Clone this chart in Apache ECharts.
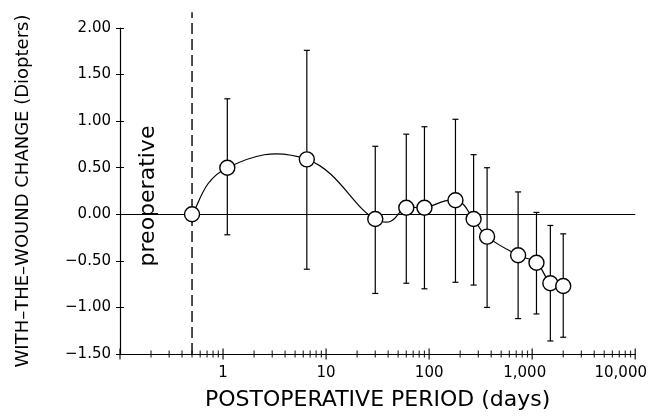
<!DOCTYPE html>
<html>
<head>
<meta charset="utf-8" />
<script src="https://cdn.jsdelivr.net/npm/echarts@6/dist/echarts.min.js"></script>
<style>
  html, body { margin: 0; padding: 0; background: #fff; }
  #main { width: 650px; height: 417px; }
</style>
</head>
<body>
<div id="main"></div>
<script type="text/javascript">
// postoperative day of each measurement
var days = [0.5, 1.1, 6.5, 30, 60, 90, 180, 270, 365, 730, 1100, 1500, 2000];
// mean with-the-wound change (D)
var change = [0.00, 0.50, 0.59, -0.05, 0.07, 0.07, 0.15, -0.05, -0.24, -0.44, -0.52, -0.74, -0.77];
// error bar ends
var errHigh = [null, 1.24, 1.76, 0.73, 0.86, 0.94, 1.02, 0.64, 0.50, 0.24, 0.02, -0.12, -0.21];
var errLow = [null, -0.22, -0.59, -0.85, -0.74, -0.80, -0.73, -0.76, -1.00, -1.12, -1.07, -1.36, -1.32];

var preopDay = 0.5;
var yMin = -1.5, yMax = 2.0, yStep = 0.5;
var xMin = 0.1, xMax = 10000;
// decades and the minor marks between them (axis decoration)
var decades = [0.1, 1, 10, 100, 1000];
var minorSteps = [2, 3, 4, 5, 6, 7, 8, 9];

var FONT = 'DejaVu Sans';

var minorTicks = [];
decades.forEach(function (d) {
    minorSteps.forEach(function (k) { minorTicks.push([d * k, yMin]); });
});
var majorTicks = decades.concat([xMax]).map(function (d) { return [d, yMin]; });

var pointData = days.map(function (d, i) { return [d, change[i]]; });
var errData = [];
days.forEach(function (d, i) {
    if (errHigh[i] !== null) errData.push([d, errLow[i], errHigh[i]]);
});

var myChart = echarts.init(document.getElementById('main'));

function xLabel(v) {
    var r = Math.round(v);
    if (v < 0.5) return '';
    if (r === 1000) return '{a|1,000}';
    if (r === 10000) return '{b|10,000}';
    return String(r);
}

function yLabel(v) {
    var s = Math.abs(v).toFixed(2);
    return v < -1e-9 ? '\u2212' + s : s;
}

// smooth curve through the points (cardinal spline in pixel space)
function renderCurve(params, api) {
    var p = pointData.map(function (d) { return api.coord(d); });
    var k = 0.22;
    var path = 'M' + p[0][0] + ' ' + p[0][1];
    for (var i = 0; i < p.length - 1; i++) {
        var a = p[i - 1] || p[i], b = p[i], c = p[i + 1], e = p[i + 2] || p[i + 1];
        var c1x = b[0] + k * (c[0] - a[0]), c1y = b[1] + k * (c[1] - a[1]);
        var c2x = c[0] - k * (e[0] - b[0]), c2y = c[1] - k * (e[1] - b[1]);
        path += ' C' + c1x + ' ' + c1y + ' ' + c2x + ' ' + c2y + ' ' + c[0] + ' ' + c[1];
    }
    return {
        type: 'path',
        shape: { pathData: path },
        style: { fill: 'none', stroke: '#000', lineWidth: 1.2 }
    };
}

var option = {
    animation: false,
    backgroundColor: '#fff',
    grid: { left: 120, right: 12, top: 28, bottom: 63 },
    xAxis: [{
        type: 'log',
        logBase: 10,
        min: xMin,
        max: xMax,
        name: 'POSTOPERATIVE PERIOD (days)',
        nameLocation: 'middle',
        nameGap: 35,
        nameTextStyle: { fontFamily: FONT, fontSize: 22, color: '#000' },
        axisLine: { onZero: false, lineStyle: { color: '#000', width: 1.2 } },
        axisTick: { show: false },
        splitLine: { show: false },
        axisLabel: {
            margin: 12,
            fontFamily: FONT,
            fontSize: 15,
            color: '#000',
            formatter: xLabel,
            rich: {
                a: { fontFamily: FONT, fontSize: 15, color: '#000', padding: [0, 15, 0, 0] },
                b: { fontFamily: FONT, fontSize: 15, color: '#000', padding: [0, 29, 0, 0] }
            }
        }
    }],
    yAxis: [{
        type: 'value',
        min: yMin,
        max: yMax,
        interval: yStep,
        name: 'WITH\u2013THE\u2013WOUND CHANGE (Diopters)',
        nameLocation: 'middle',
        nameGap: 88,
        nameTextStyle: { fontFamily: FONT, fontSize: 18, color: '#000' },
        axisLine: { show: true, lineStyle: { color: '#000', width: 1.2 } },
        axisTick: { show: true, length: 4, lineStyle: { color: '#000' } },
        splitLine: { show: false },
        axisLabel: { margin: 9, fontFamily: FONT, fontSize: 15, color: '#000', formatter: yLabel }
    }, {
        type: 'value',
        min: yMin,
        max: yMax,
        interval: yStep,
        position: 'left',
        axisLine: { show: false },
        axisTick: { show: true, inside: true, length: 4, lineStyle: { color: '#000' } },
        axisLabel: { show: false },
        splitLine: { show: false }
    }],
    graphic: [{
        type: 'text',
        x: 148,
        y: 196,
        rotation: Math.PI / 2,
        style: {
            text: 'preoperative',
            font: '22px "DejaVu Sans"',
            fill: '#000',
            align: 'center',
            verticalAlign: 'middle'
        }
    }],
    series: [
        {
            name: 'preop',
            type: 'line',
            clip: false,
            symbol: 'none',
            silent: true,
            data: [[preopDay, yMin], [preopDay, yMax + 0.17]],
            lineStyle: { color: '#000', width: 1.4, type: [11, 5] },
            markLine: {
                silent: true,
                symbol: 'none',
                label: { show: false },
                lineStyle: { color: '#000', width: 1.2, type: 'solid' },
                data: [{ yAxis: 0 }]
            },
            z: 1
        },
        {
            name: 'minor',
            type: 'scatter',
            clip: false,
            silent: true,
            symbol: 'rect',
            symbolSize: [1.2, 7],
            itemStyle: { color: '#000' },
            data: minorTicks,
            z: 2
        },
        {
            name: 'major',
            type: 'scatter',
            clip: false,
            silent: true,
            symbol: 'rect',
            symbolSize: [1.4, 11],
            itemStyle: { color: '#000' },
            data: majorTicks,
            z: 2
        },
        {
            name: 'sd',
            type: 'custom',
            clip: false,
            silent: true,
            data: errData,
            renderItem: function (params, api) {
                var x = api.value(0);
                var top = api.coord([x, api.value(2)]);
                var bot = api.coord([x, api.value(1)]);
                var st = { stroke: '#000', lineWidth: 1.2 };
                var w = 3;
                return {
                    type: 'group',
                    children: [
                        { type: 'line', shape: { x1: top[0], y1: top[1], x2: bot[0], y2: bot[1] }, style: st },
                        { type: 'line', shape: { x1: top[0] - w, y1: top[1], x2: top[0] + w, y2: top[1] }, style: st },
                        { type: 'line', shape: { x1: bot[0] - w, y1: bot[1], x2: bot[0] + w, y2: bot[1] }, style: st }
                    ]
                };
            },
            z: 3
        },
        {
            name: 'curve',
            type: 'custom',
            clip: false,
            silent: true,
            data: [[days[0], change[0]]],
            renderItem: renderCurve,
            z: 4
        },
        {
            name: 'change',
            type: 'scatter',
            clip: false,
            data: pointData,
            symbol: 'circle',
            symbolSize: 15,
            itemStyle: { color: '#fff', borderColor: '#000', borderWidth: 1.4, opacity: 1 },
            z: 5
        }
    ]
};

myChart.setOption(option);
</script>
</body>
</html>
